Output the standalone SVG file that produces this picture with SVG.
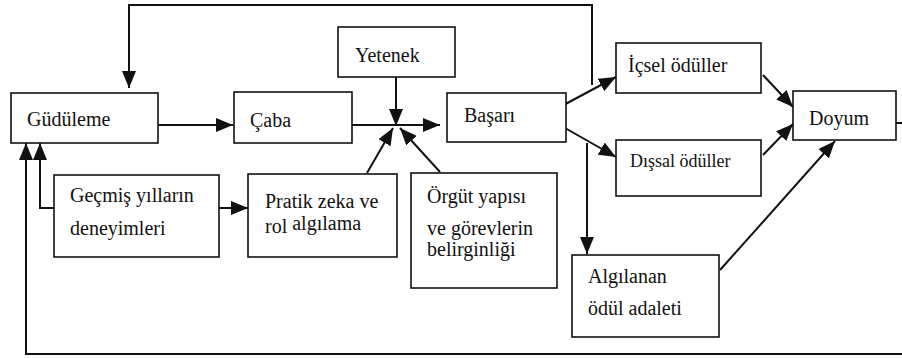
<svg xmlns="http://www.w3.org/2000/svg" width="902" height="358" viewBox="0 0 902 358">
<style>
.box{fill:#fff;stroke:#111;stroke-width:1.6}
text{font-family:'Liberation Serif','DejaVu Serif',serif;font-size:20px;fill:#111}
.c{fill:none;stroke:#111;stroke-width:2}
.ca{fill:none;stroke:#111;stroke-width:2;marker-end:url(#ah)}
</style>
<defs>
<marker id="ah" markerUnits="userSpaceOnUse" markerWidth="18" markerHeight="14" viewBox="0 0 18 14" refX="17" refY="7" orient="auto">
<path d="M0,0 L17,7 L0,14 Z" fill="#111"/>
</marker>
</defs>
<rect width="902" height="358" fill="#fff"/>
<g id="connectors">
<polyline class="ca" points="592,85 592,5 129,5 129,88"/>
<line class="ca" x1="158" y1="125" x2="233" y2="125"/>
<line class="c" x1="352" y1="125" x2="396" y2="125"/>
<line class="ca" x1="396" y1="125" x2="440" y2="125"/>
<line class="ca" x1="396" y1="77" x2="396" y2="126"/>
<line class="ca" x1="367" y1="173" x2="393" y2="128"/>
<line class="ca" x1="440" y1="172" x2="400" y2="128"/>
<line class="ca" x1="558" y1="108" x2="616" y2="77"/>
<line class="ca" x1="558" y1="124" x2="616" y2="157"/>
<line class="ca" x1="763" y1="75" x2="793" y2="107"/>
<line class="ca" x1="763" y1="155" x2="793" y2="124"/>
<line class="ca" x1="720" y1="270" x2="835" y2="141"/>
<line class="ca" x1="587" y1="143" x2="587" y2="254"/>
<line class="ca" x1="219" y1="208" x2="248" y2="208"/>
<polyline class="ca" points="54,208 40,208 40,143"/>
<polyline class="ca" points="902,354 26,354 26,143"/>
<line class="c" x1="896" y1="123" x2="902" y2="123"/>
</g>
<g id="gudulme"><rect class="box" x="11" y="93" width="147" height="50"/><text x="27" y="126">Güdüleme</text></g>
<g id="caba"><rect class="box" x="234" y="92" width="118" height="51"/><text x="250" y="127">Çaba</text></g>
<g id="yetenek"><rect class="box" x="338" y="27" width="117" height="50"/><text x="355" y="62">Yetenek</text></g>
<g id="basari"><rect class="box" x="447" y="93" width="119" height="49"/><text x="464" y="122">Başarı</text></g>
<g id="icsel"><rect class="box" x="616" y="43" width="145" height="50"/><text x="628" y="72">İçsel ödüller</text></g>
<g id="dissal"><rect class="box" x="616" y="140" width="145" height="56"/><text x="630" y="167" style="font-size:18px">Dışsal  ödüller</text></g>
<g id="doyum"><rect class="box" x="793" y="91" width="103" height="49"/><text x="809" y="125">Doyum</text></g>
<g id="gecmis"><rect class="box" x="54" y="175" width="165" height="82"/><text x="70" y="202">Geçmiş yılların</text><text x="70" y="235">deneyimleri</text></g>
<g id="pratik"><rect class="box" x="248" y="174" width="149" height="83"/><text x="265" y="208">Pratik zeka ve</text><text x="265" y="233">rol <tspan dy="-3">algılama</tspan></text></g>
<g id="orgut"><rect class="box" x="411" y="173" width="146" height="115"/><text x="427" y="203">Örgüt yapısı</text><text x="427" y="235">ve görevlerin</text><text x="427" y="256">belirginliği</text></g>
<g id="algilanan"><rect class="box" x="572" y="255" width="147" height="82"/><text x="588" y="283">Algılanan</text><text x="588" y="315">ödül adaleti</text></g>
</svg>
